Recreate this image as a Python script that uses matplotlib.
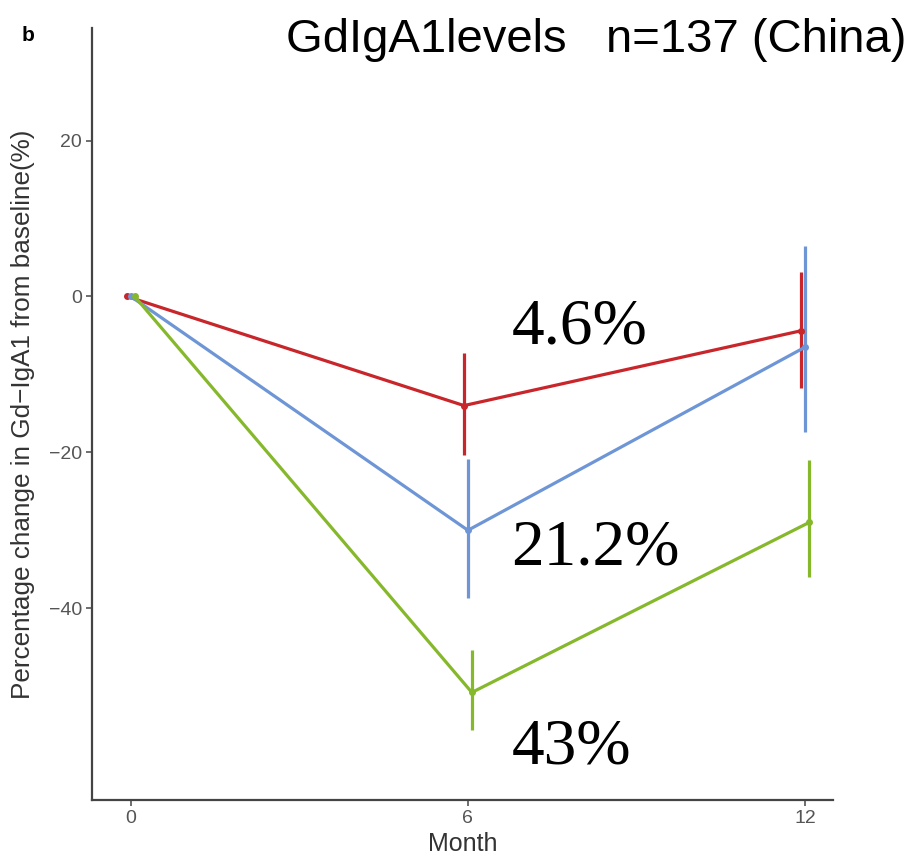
#!/usr/bin/env python3
import matplotlib
matplotlib.use("Agg")
import matplotlib.pyplot as plt
import numpy as np

# data
months = [0, 6, 12]
red_mean = [0, -14.0, -4.4]
red_lo = [0, -20.3, -11.8]
red_hi = [0, -7.2, 3.1]
blue_mean = [0, -30.0, -6.5]
blue_lo = [0, -38.7, -17.4]
blue_hi = [0, -20.8, 6.5]
green_mean = [0, -50.8, -29.0]
green_lo = [0, -55.6, -36.0]
green_hi = [0, -45.4, -21.0]
reductions = ["4.6%", "21.2%", "43%"]

plt.rcParams['font.family'] = ['Liberation Sans', 'DejaVu Sans']

fig = plt.figure(figsize=(9.15, 8.57), dpi=100)
ax = fig.add_axes([0.1005, 0.0665, 0.8095, 0.9005])

series = [
    (red_mean, red_lo, red_hi, "#c8262b", -0.07),
    (blue_mean, blue_lo, blue_hi, "#6e96d6", 0.0),
    (green_mean, green_lo, green_hi, "#86b82c", 0.07),
]
for mean, lo, hi, col, dx in series:
    x = np.array(months) + dx
    m = np.array(mean)
    yerr = [m - np.array(lo), np.array(hi) - m]
    ax.errorbar(x, m, yerr=yerr, color=col, lw=2.3, elinewidth=2.3,
                capsize=0, marker="o", ms=4)

ax.set_xlim(-0.69, 12.49)
ax.set_ylim(-64.6, 34.4)
ax.set_xticks([0, 6, 12])
ax.set_yticks([-40, -20, 0, 20])
ax.tick_params(colors="#555555", labelsize=14, length=4, width=1.2, pad=3)
for s in ["top", "right"]:
    ax.spines[s].set_visible(False)
for s in ["left", "bottom"]:
    ax.spines[s].set_color("#444444")
    ax.spines[s].set_linewidth(1.6)

ax.set_xlabel("Month", fontsize=18, color="#333333", labelpad=4)
ax.set_ylabel("Percentage change in Gd\u2212IgA1 from baseline(%)", fontsize=18.8,
              color="#333333", labelpad=10)

fig.text(0.031, 0.959, "b", fontsize=15, fontweight="bold", ha="center", va="center")
fig.text(0.991, 0.939, "GdIgA1levels   n=137 (China)", fontsize=34,
         ha="right", va="baseline")

label_y = [0.617, 0.360, 0.127]
for txt, yy in zip(reductions, label_y):
    fig.text(0.559, yy, txt, fontsize=47, family="Liberation Serif",
             ha="left", va="center")

fig.savefig("out.png", dpi=100)
